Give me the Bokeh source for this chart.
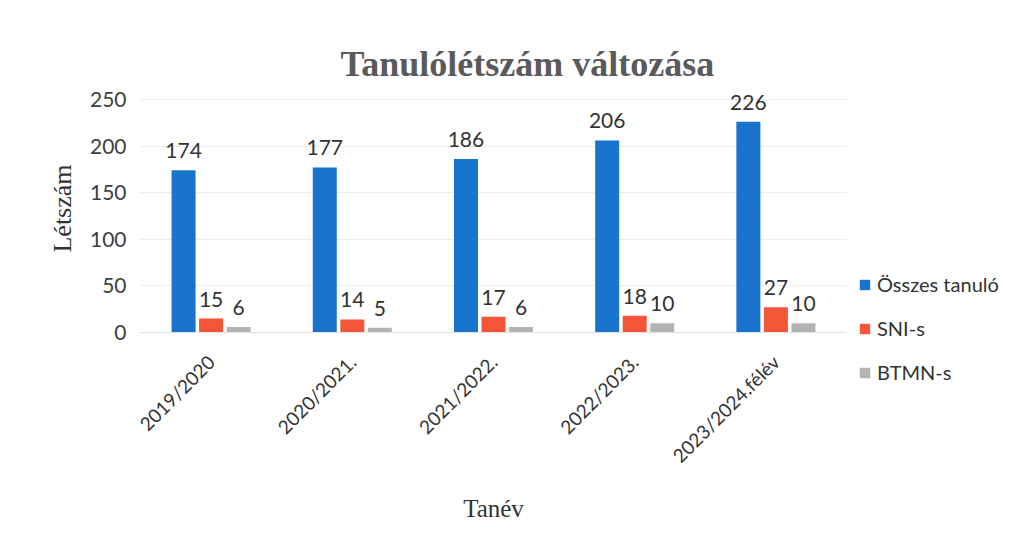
import math
from bokeh.plotting import figure
from bokeh.models import ColumnDataSource, Legend, LegendItem, LabelSet, FactorRange
from bokeh.core.properties import value
from bokeh.transform import dodge
from bokeh.embed import file_html
from bokeh.resources import INLINE

categories = ["2019/2020", "2020/2021.", "2021/2022.", "2022/2023.", "2023/2024.félév"]
osszes = [174, 177, 186, 206, 226]
sni = [15, 14, 17, 18, 27]
btmn = [6, 5, 6, 10, 10]
series_names = ["Összes tanuló", "SNI-s", "BTMN-s"]
colors = ["#1874cd", "#f5563a", "#b4b4b4"]
y_ticks = [0, 50, 100, 150, 200, 250]

src = ColumnDataSource(dict(cat=categories, a=osszes, b=sni, c=btmn,
                            la=[str(v) for v in osszes],
                            lb=[str(v) for v in sni],
                            lc=[str(v) for v in btmn]))

p = figure(x_range=FactorRange(*categories), y_range=(0, 266),
           frame_width=706, frame_height=248, output_backend="svg", toolbar_location=None,
           min_border_left=140, min_border_right=166, min_border_top=84,
           min_border_bottom=200)
p.background_fill_color = "white"
p.border_fill_color = "white"
p.outline_line_color = None

offsets = [-0.195, 0.0, 0.195]
cols = ["a", "b", "c"]
lcols = ["la", "lb", "lc"]
renderers = []
for off, col, lc, color in zip(offsets, cols, lcols, colors):
    r = p.vbar(x=dodge("cat", off, range=p.x_range), top=col, width=0.17,
               source=src, fill_color=color, line_color=None)
    renderers.append(r)
    labels = LabelSet(x=dodge("cat", off, range=p.x_range), y=col, text=lc,
                      source=src, text_align="center", text_baseline="bottom",
                      y_offset=12, text_font=value("Lato"), text_font_size=value("21px"),
                      text_color="#333333")
    p.add_layout(labels)

p.title.text = "Tanulólétszám változása"
p.title.text_font = "Liberation Serif"
p.title.text_font_size = "36px"
p.title.text_font_style = "bold"
p.title.text_color = "#5a5a5a"
p.title.align = "left"
p.title.offset = 200
p.title.standoff = 1

p.yaxis.ticker = y_ticks
p.yaxis.axis_line_color = None
p.yaxis.major_tick_line_color = None
p.yaxis.minor_tick_line_color = None
p.yaxis.major_tick_out = 0
p.yaxis.major_tick_in = 0
p.yaxis.major_label_text_font = "Lato"
p.yaxis.major_label_text_font_size = "21px"
p.yaxis.major_label_text_color = "#404040"
p.yaxis.major_label_standoff = 14
p.yaxis.axis_label = "Létszám"
p.yaxis.axis_label_text_font = "Liberation Serif"
p.yaxis.axis_label_text_font_style = "normal"
p.yaxis.axis_label_text_font_size = "26px"
p.yaxis.axis_label_text_color = "#333333"
p.yaxis.axis_label_standoff = 10

p.xaxis.axis_line_color = "#e0e0e0"
p.xaxis.major_tick_line_color = None
p.xaxis.minor_tick_line_color = None
p.xaxis.major_label_orientation = math.pi / 4
p.xaxis.major_label_text_font = "Lato"
p.xaxis.major_label_text_font_size = "19px"
p.xaxis.major_label_text_color = "#333333"
p.xaxis.major_label_standoff = 20
p.xaxis.axis_label = "Tanév"
p.xaxis.axis_label_text_font = "Liberation Serif"
p.xaxis.axis_label_text_font_style = "normal"
p.xaxis.axis_label_text_font_size = "25px"
p.xaxis.axis_label_text_color = "#333333"
p.xaxis.axis_label_standoff = 17

p.xgrid.grid_line_color = None
p.ygrid.grid_line_color = "#ececec"

legend = Legend(items=[LegendItem(label=n, renderers=[r]) for n, r in zip(series_names, renderers)],
                location=(12, -52), border_line_color=None, background_fill_alpha=0,
                label_text_font="Lato", label_text_font_size="20px",
                label_text_color="#333333", glyph_width=13, glyph_height=13,
                spacing=20, padding=2, margin=0, label_standoff=6)
p.add_layout(legend, "right")

open("out.html", "w").write(file_html(p, INLINE))
